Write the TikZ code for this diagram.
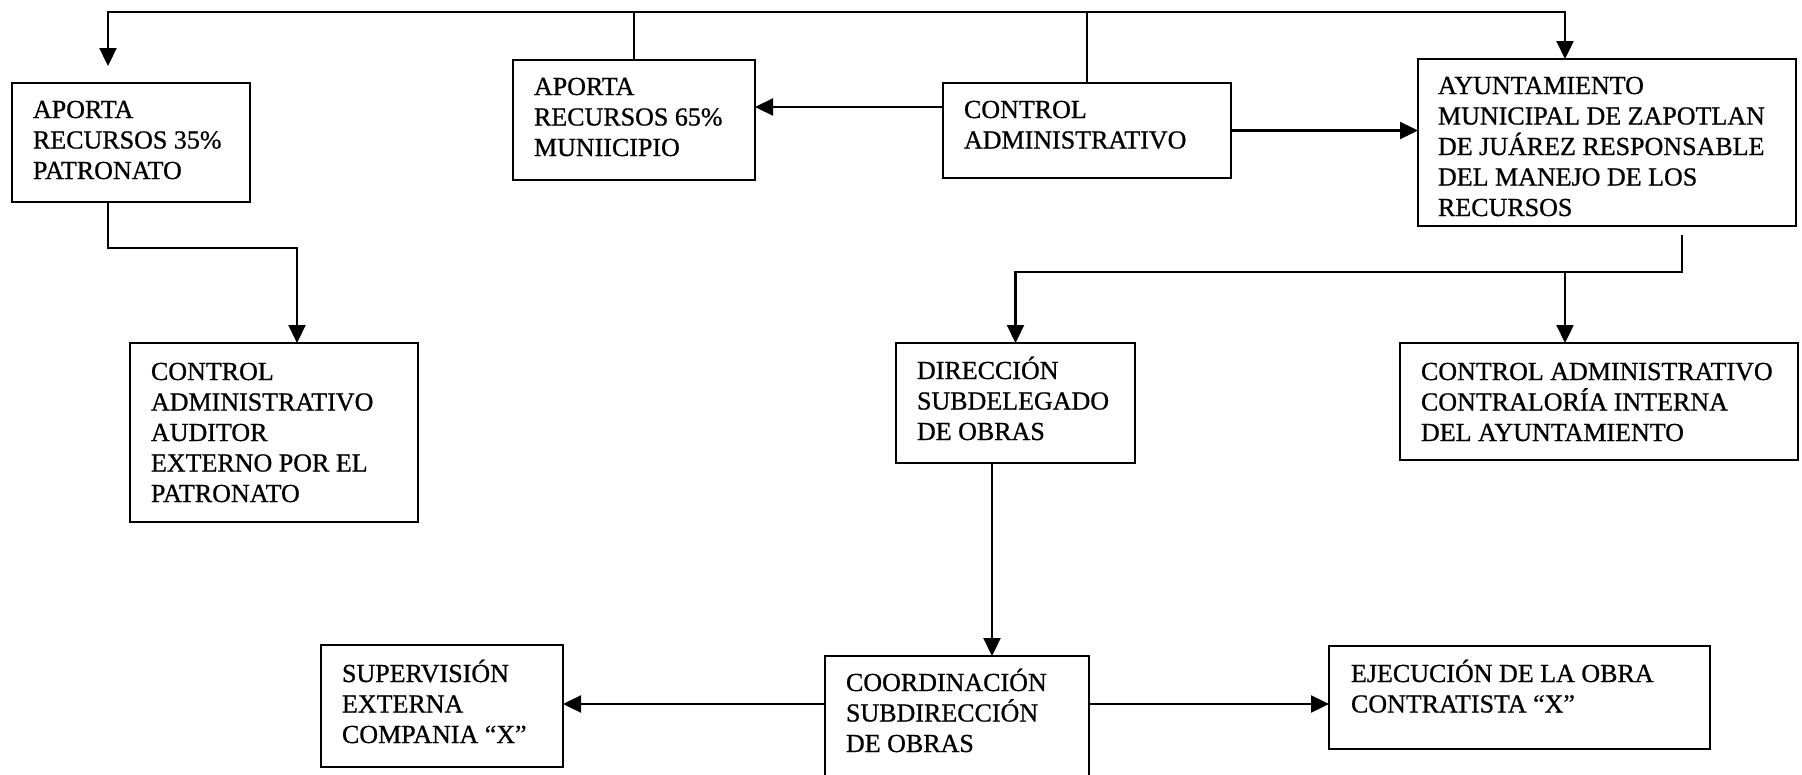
\documentclass[tikz,border=0pt]{standalone}
\usepackage{fontspec}
\setmainfont{Liberation Serif}[FakeBold=0.8]
\usetikzlibrary{arrows.meta}
\newcommand\FirstLn{\rule{0pt}{24pt}}
\begin{document}
\begin{tikzpicture}[x=1pt,y=-1pt,
  box/.style={draw, line width=2.5pt, rectangle, inner sep=0pt, outer sep=0pt, anchor=north west},
  txt/.style={anchor=north west, inner sep=0pt, outer sep=0pt, align=left, font=\fontsize{26}{30.5}\selectfont},
  arr/.style={line width=2.3pt, -{Triangle[length=18pt,width=17pt]}},
  ln/.style={line width=2.3pt}]
\useasboundingbox (0,0) rectangle (1802,774);

% boxes
\node[box, minimum width=238pt, minimum height=119pt] (a) at (12,83) {};
\node[box, minimum width=242pt, minimum height=120pt] (m) at (513,60) {};
\node[box, minimum width=288pt, minimum height=95pt] (ca) at (943,83) {};
\node[box, minimum width=378pt, minimum height=167pt] (ayu) at (1418,59) {};
\node[box, minimum width=288pt, minimum height=179pt] (aud) at (130,343) {};
\node[box, minimum width=239pt, minimum height=120pt] (dir) at (896,343) {};
\node[box, minimum width=398pt, minimum height=117pt] (cai) at (1400,343) {};
\node[box, minimum width=264pt, minimum height=144pt] (coord) at (825,656) {};
\node[box, minimum width=242pt, minimum height=122pt] (sup) at (321,645) {};
\node[box, minimum width=381pt, minimum height=103pt] (eje) at (1329,646) {};

% texts
\node[txt] (aT) at ([shift={(21pt,-11pt)}]a.north west) {\FirstLn APORTA\\RECURSOS 35\%\\PATRONATO};
\node[txt] (mT) at ([shift={(21pt,-11pt)}]m.north west) {\FirstLn APORTA\\RECURSOS 65\%\\MUNIICIPIO};
\node[txt] (caT) at ([shift={(21pt,-11pt)}]ca.north west) {\FirstLn CONTROL\\ADMINISTRATIVO};
\node[txt] (ayuT) at ([shift={(20pt,-11pt)}]ayu.north west) {\FirstLn AYUNTAMIENTO\\MUNICIPAL DE ZAPOTLAN\\DE JUÁREZ RESPONSABLE\\DEL MANEJO DE LOS\\RECURSOS};
\node[txt] (audT) at ([shift={(21pt,-13pt)}]aud.north west) {\FirstLn CONTROL\\ADMINISTRATIVO\\AUDITOR\\EXTERNO POR EL\\PATRONATO};
\node[txt] (dirT) at ([shift={(21pt,-12pt)}]dir.north west) {\FirstLn DIRECCIÓN\\SUBDELEGADO\\DE OBRAS};
\node[txt] (caiT) at ([shift={(21pt,-13pt)}]cai.north west) {\FirstLn CONTROL ADMINISTRATIVO\\CONTRALORÍA INTERNA\\DEL AYUNTAMIENTO};
\node[txt] (coordT) at ([shift={(21pt,-11pt)}]coord.north west) {\FirstLn COORDINACIÓN\\SUBDIRECCIÓN\\DE OBRAS};
\node[txt] (supT) at ([shift={(21pt,-13pt)}]sup.north west) {\FirstLn SUPERVISIÓN\\EXTERNA\\COMPANIA “X”};
\node[txt] (ejeT) at ([shift={(22pt,-12pt)}]eje.north west) {\FirstLn EJECUCIÓN DE LA OBRA\\CONTRATISTA “X”};

% connectors
\coordinate (topY) at (0,12);
\coordinate (jCA) at (ca.north |- topY);
\coordinate (tipA) at (108,66);
\coordinate (tipAYU) at ([xshift=-42pt]ayu.north);
\draw[arr] (ca.north) -- (jCA) -| (tipA);
\draw[arr] (jCA) -| (tipAYU);
\draw[ln] (m.north) -- (m.north |- topY);
\coordinate (caL) at ([yshift=23.5pt]ca.west);
\draw[arr] (caL) -- (caL -| m.east);
\draw[arr] (ca.east) -- (ca.east -| ayu.west);
\coordinate (ayuB) at ([shift={(75pt,-9pt)}]ayu.south);
\coordinate (rowY) at (0,272);
\coordinate (tipCAI) at ([xshift=-34pt]cai.north);
\draw[arr] (ayuB) -- (ayuB |- rowY) -| (dir.north);
\draw[arr] (tipCAI |- rowY) -- (tipCAI);
\coordinate (aB) at ([xshift=-23pt]a.south);
\coordinate (rowA) at (0,248);
\coordinate (tipAud) at ([xshift=23pt]aud.north);
\draw[arr] (aB) -- (aB |- rowA) -| (tipAud);
\coordinate (dB) at ([xshift=-23.5pt]dir.south);
\draw[arr] (dB) -- (dB |- coord.north);
\coordinate (cL) at ([yshift=24pt]coord.west);
\coordinate (cR) at ([yshift=24pt]coord.east);
\draw[arr] (cL) -- (cL -| sup.east);
\draw[arr] (cR) -- (cR -| eje.west);
\end{tikzpicture}
\end{document}
